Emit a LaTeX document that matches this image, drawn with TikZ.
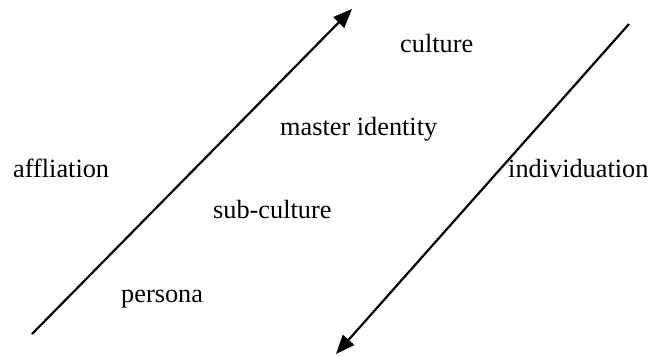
\documentclass[tikz,border=0pt]{standalone}
\usepackage{fontspec}
\setmainfont{Liberation Serif}
\usetikzlibrary{arrows.meta}
\begin{document}
\begin{tikzpicture}[x=1pt,y=-1pt,
  lbl/.style={anchor=base west,inner sep=0pt,font=\fontsize{26.3}{30}\selectfont},
  conn/.style={line width=2.2pt,-{Triangle[length=19pt,width=15pt]}}]
\useasboundingbox (0,0) rectangle (650,356);
\node[lbl] (culture) at (400,52) {culture};
\node[lbl] (master) at (280,135) {master identity};
\node[lbl] (affl) at (13,177) {affliation};
\node[lbl] (indiv) at (508,177) {individuation};
\node[lbl] (sub) at (213,218) {sub-culture};
\node[lbl] (persona) at (121,302) {persona};
\coordinate (a1) at (32,334);
\coordinate (a2) at (352,9);
\coordinate (b1) at (629,24);
\coordinate (b2) at (336,354);
\draw[conn] (a1) -- (a2);
\draw[conn] (b1) -- (b2);
\end{tikzpicture}
\end{document}
